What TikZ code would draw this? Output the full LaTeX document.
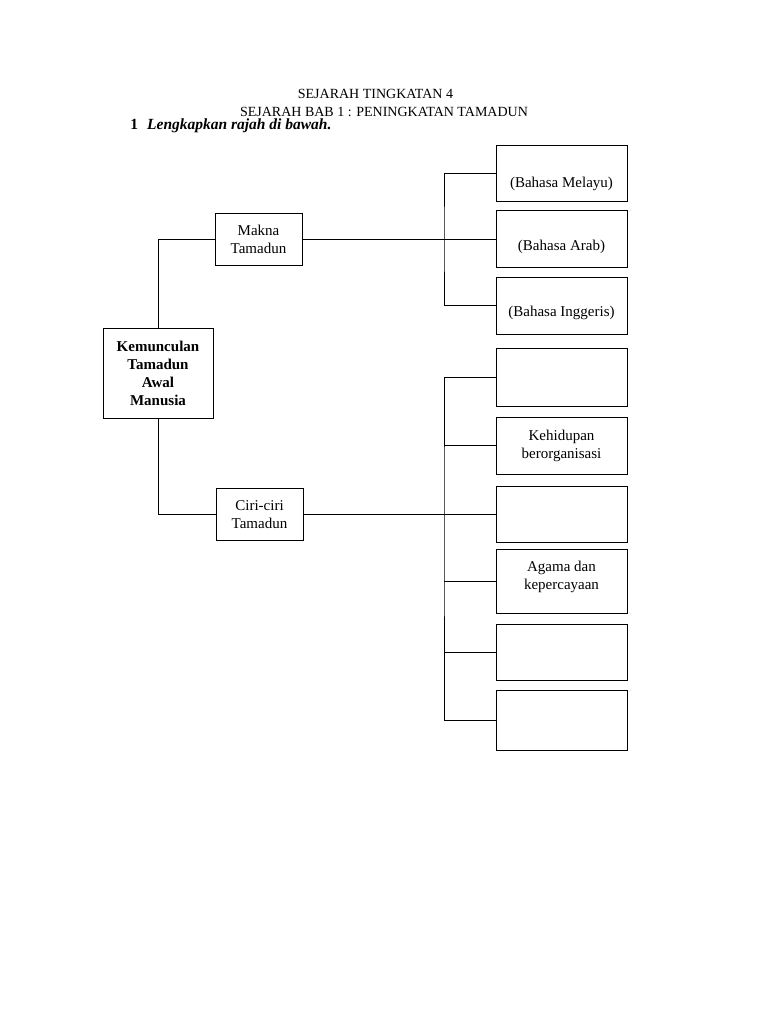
\documentclass[tikz,border=0pt]{standalone}
\usepackage{fontspec}
\setmainfont{Liberation Serif}
\begin{document}
\begin{tikzpicture}[x=1pt,y=-1pt,line width=0.8pt,
    box/.style={draw,align=center,inner sep=2pt,font=\fontsize{15}{18}\selectfont},
    ans/.style={box,minimum width=131pt},
    head/.style={anchor=base,inner sep=0pt,font=\fontsize{14}{16}\selectfont},
    every label/.style={font=\fontsize{15}{18}\selectfont}]
  \useasboundingbox (0,0) rectangle (768,1024);
  % heading
  \node[head] (title1) at (375.5,99) {SEJARAH TINGKATAN 4};
  \node[head] (title2) at (384,117) {SEJARAH BAB 1 : PENINGKATAN TAMADUN};
  \node[head,anchor=base west,font=\bfseries\fontsize{15.5}{16}\selectfont] (soalan) at (130,129.5)
    {1\hspace{9pt}\textit{Lengkapkan rajah di bawah.}};
  % left part
  \node[box,minimum width=110pt,minimum height=90pt,font=\bfseries\fontsize{15}{18}\selectfont] (awal) at (158,373)
    {Kemunculan\\Tamadun\\Awal\\Manusia};
  \node[box,minimum width=87pt,minimum height=52pt] (makna) at (258.5,239) {Makna\\Tamadun};
  \node[box,minimum width=87pt,minimum height=52pt] (ciri) at (259.5,514.5) {Ciri-ciri\\Tamadun};
  % makna tamadun
  \node[ans,minimum height=56pt,label={[yshift=-11pt]center:(Bahasa Melayu)}] (melayu) at (561.5,173) {};
  \node[ans,minimum height=57pt,label={[yshift=-8pt]center:(Bahasa Arab)}] (arab) at (561.5,239) {};
  \node[ans,minimum height=57pt,label={[yshift=-7pt]center:(Bahasa Inggeris)}] (inggeris) at (561.5,305.5) {};
  % ciri-ciri tamadun
  \node[ans,minimum height=58pt] (c1) at (561.5,377) {};
  \node[ans,minimum height=57pt] (c2) at (561.5,445.5) {Kehidupan\\berorganisasi};
  \node[ans,minimum height=56pt] (c3) at (561.5,514.5) {};
  \node[ans,minimum height=64pt,label={[yshift=4pt,align=center]center:Agama dan\\kepercayaan}] (c4) at (561.5,581) {};
  \node[ans,minimum height=56pt] (c5) at (561.5,652) {};
  \node[ans,minimum height=60pt] (c6) at (561.5,720) {};
  % connectors
  \coordinate (spineA) at (444,239);
  \coordinate (spineB) at (444,514.5);
  \draw (makna.west) -| (awal.north);
  \draw (ciri.west) -| (awal.south);
  \draw (makna.east) -- (arab.west);
  \draw (melayu.west) -| (spineA) |- (inggeris.west);
  \draw (ciri.east) -- (c3.west);
  \draw (c1.west) -| (spineB) |- (c6.west);
  \foreach \n in {c2,c4,c5}
    \draw (\n.west) -- (\n.west -| spineB);
\end{tikzpicture}
\end{document}
